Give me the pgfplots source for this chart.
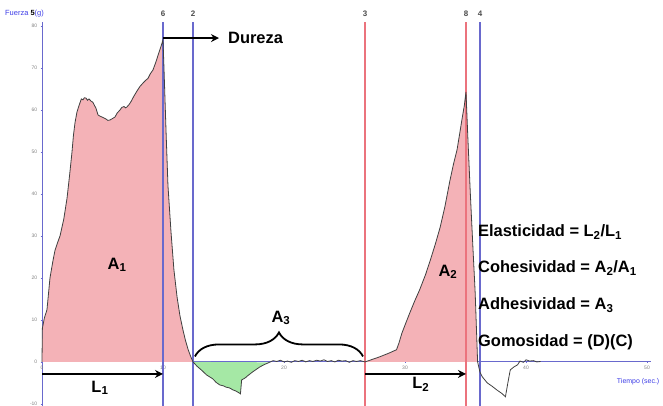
\documentclass[border=0pt]{standalone}
\usepackage{fontspec}
\setmainfont{Liberation Sans}
\usepackage{pgfplots}
\pgfplotsset{compat=1.18}
\usepackage{pgfplotstable}
\usetikzlibrary{decorations.pathreplacing,arrows.meta}
\definecolor{bluel}{RGB}{105,105,205}
\definecolor{redl}{RGB}{235,115,125}
\definecolor{labblue}{RGB}{60,60,230}
\definecolor{pinkfill}{RGB}{244,178,183}
\definecolor{greenfill}{RGB}{165,232,165}
\newcommand{\annf}{\fontsize{16.5}{18}\selectfont\bfseries}
\pgfplotstableread{
x y
0 0
0.03 8
0.2 10.5
0.41 12.4
0.66 20
0.9 24
1.07 26.5
1.3 28.5
1.49 30
1.8 34
2.07 39
2.3 45
2.48 50
2.6 54
2.73 57
2.89 59.5
3.0 60.5
3.14 61.7
3.25 62.6
3.39 62.4
3.5 62.9
3.64 62.8
3.76 62.3
3.88 62.6
4.05 62.1
4.21 61.8
4.35 61.0
4.46 60.4
4.63 58.8
4.8 58.5
5.04 58.2
5.25 57.9
5.45 57.5
5.62 57.6
5.8 57.9
6.03 58.3
6.2 59.2
6.45 60.0
6.6 60.6
6.78 60.8
6.9 60.5
7.02 60.7
7.2 61.3
7.36 62.0
7.6 63.3
7.85 64.5
8.1 65.6
8.35 66.4
8.55 67.0
8.76 67.5
8.95 68.6
9.17 69.5
9.4 71.3
9.59 73.0
9.8 74.8
10.0 76.7
10.08 70
10.25 55
10.41 42
10.66 31
10.9 22
11.16 15.5
11.4 11
11.65 7.6
11.85 5.2
12.07 3
12.3 1.2
12.48 0
12.8 -1
13.2 -2
13.6 -3.1
14.1 -4
14.4 -4.9
14.7 -5.5
15.0 -5.7
15.2 -6
15.5 -6.2
15.8 -6.7
16.0 -6.9
16.3 -7.4
16.4 -7.6
16.5 -4.3
16.8 -3.8
17.0 -3.3
17.4 -2.4
17.7 -1.8
18.0 -1.2
18.4 -0.6
18.8 -0.1
19.1 0.3
19.4 0.1
19.7 0.4
20.0 0.0
20.3 0.2
20.6 -0.1
20.9 0.3
21.2 0.1
21.5 0.4
21.8 0.0
22.1 0.3
22.4 0.1
22.7 0.4
23.0 0.2
23.3 0.5
23.6 0.1
23.9 0.3
24.2 0.0
24.5 0.4
24.8 0.2
25.1 0.3
25.4 -0.1
25.7 0.3
26.0 0.1
26.3 0.3
26.7 0.0
27.2 0.5
27.9 1.2
28.6 2.0
29.3 2.9
29.5 4.5
29.75 6.9
30.1 9.5
30.4 11.7
30.8 14.5
31.2 17.1
31.7 20.8
32.1 24.3
32.5 28
32.9 32
33.3 37
33.7 43
34.0 47
34.3 50.5
34.5 54
34.7 57.6
34.9 61
35.04 64.3
35.2 53
35.4 40
35.6 28
35.8 16.4
36.0 0
36.2 -2.5
36.4 -3.6
36.8 -5
37.2 -5.8
37.6 -6.7
38.0 -7.5
38.3 -8.3
38.5 -5
38.7 -1.9
39.0 -1.2
39.3 -0.7
39.5 0.2
39.8 -0.1
40.0 0.5
40.3 0.2
40.6 0.3
40.9 0.0
41.2 0.1
}\curve
\begin{document}
\begin{tikzpicture}
\useasboundingbox (-42bp,0) rectangle (621bp,406bp);
\begin{axis}[
  x=12.1bp, y=4.2bp,
  xmin=0, xmax=50.3, ymin=-10.5, ymax=81,
  anchor=south west, at={(0,0)},
  axis lines=middle,
  axis line style={draw=bluel, line width=0.9bp, -},
  clip=false,
  xtick={0,10,...,50}, ytick={-10,0,...,80},
  hide obscured x ticks=false, hide obscured y ticks=false,
  major tick length=2.5bp,
  tick style={draw=bluel, line width=0.5bp},
  tick label style={font=\fontsize{5}{6}\selectfont, text=gray},
  /pgf/number format/assume math mode=true,
  xticklabel style={yshift=1bp},
]
% fills
\addplot[draw=none, fill=pinkfill, restrict x to domain=0:12.49] table {\curve};
\addplot[draw=none, fill=greenfill, restrict x to domain=12.47:18.85] table {\curve};
\addplot[draw=none, fill=pinkfill, restrict x to domain=26.69:36.01] table {\curve};
% vertical marker lines
\addplot[color=bluel, line width=1.2bp, mark=none] coordinates {(10,-10.5) (10,81)};
\addplot[color=bluel, line width=1.2bp, mark=none] coordinates {(12.48,-10.5) (12.48,81)};
\addplot[color=redl, line width=1.2bp, mark=none] coordinates {(26.7,-10.5) (26.7,81)};
\addplot[color=redl, line width=1.2bp, mark=none] coordinates {(35.04,-10.5) (35.04,81)};
\addplot[color=bluel, line width=1.2bp, mark=none] coordinates {(36.2,-10.5) (36.2,81)};
% curve
\addplot[color=black!75, line width=0.8bp, mark=none] table {\curve};
% top numbers
\node[font=\fontsize{8}{9}\selectfont\bfseries, text=black!70] at (axis cs:10,82.9) {6};
\node[font=\fontsize{8}{9}\selectfont\bfseries, text=black!70] at (axis cs:12.48,82.9) {2};
\node[font=\fontsize{8}{9}\selectfont\bfseries, text=black!70] at (axis cs:26.7,82.9) {3};
\node[font=\fontsize{8}{9}\selectfont\bfseries, text=black!70] at (axis cs:35.04,82.9) {8};
\node[font=\fontsize{8}{9}\selectfont\bfseries, text=black!70] at (axis cs:36.2,82.9) {4};
\node[anchor=west, font=\fontsize{7.5}{9}\selectfont, text=labblue, inner sep=0] at (axis cs:-3.06,82.9) {Fuerza \textcolor{black}{\textbf{5}}(g)};
\node[anchor=west, font=\fontsize{7}{8}\selectfont, text=labblue, inner sep=0] at (axis cs:47.5,-4.76) {Tiempo (sec.)};
% Dureza
\draw[-{Stealth[length=8bp,width=8bp]}, line width=1.6bp] (axis cs:10,77.1) -- (axis cs:14.63,77.1);
\node[anchor=west, font=\annf, inner sep=0] at (axis cs:15.37,77.1) {Dureza};
% L arrows
\draw[-{Stealth[length=8bp,width=8bp]}, line width=1.8bp] (axis cs:0,-2.86) -- (axis cs:10,-2.86);
\node[font=\annf] at (axis cs:4.79,-6.2) {L\textsubscript{1}};
\draw[-{Stealth[length=8bp,width=8bp]}, line width=1.8bp] (axis cs:26.7,-2.86) -- (axis cs:35.04,-2.86);
\node[font=\annf] at (axis cs:31.3,-5.4) {L\textsubscript{2}};
% area labels
\node[font=\annf] at (axis cs:6.2,23.1) {A\textsubscript{1}};
\node[font=\annf] at (axis cs:33.55,21.4) {A\textsubscript{2}};
\node[font=\annf] at (axis cs:19.75,10.5) {A\textsubscript{3}};
\draw[line width=1.8bp, decorate, decoration={brace, amplitude=24bp, aspect=0.5}] (axis cs:12.64,1.3) -- (axis cs:26.53,1.3);
% formulas
\node[anchor=west, font=\annf, inner sep=0] at (axis cs:36.03,30.95) {Elasticidad = L\textsubscript{2}/L\textsubscript{1}};
\node[anchor=west, font=\annf, inner sep=0] at (axis cs:36.03,22.38) {Cohesividad = A\textsubscript{2}/A\textsubscript{1}};
\node[anchor=west, font=\annf, inner sep=0] at (axis cs:36.03,13.57) {Adhesividad = A\textsubscript{3}};
\node[anchor=west, font=\annf, inner sep=0] at (axis cs:36.03,4.76) {Gomosidad = (D)(C)};
\end{axis}
\end{tikzpicture}
\end{document}
